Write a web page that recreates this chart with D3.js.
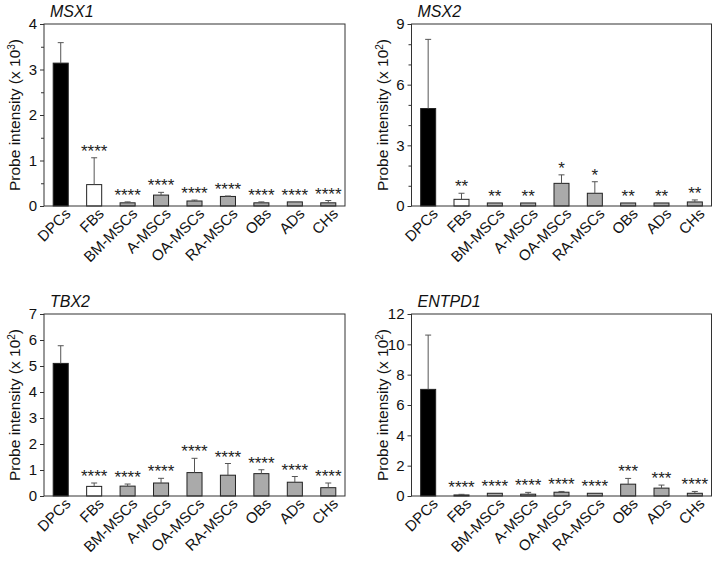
<!DOCTYPE html>
<html>
<head>
<meta charset="utf-8">
<script src="https://cdn.jsdelivr.net/npm/d3@7"></script>
<style>
  body { margin: 0; background: #fff; }
  svg { display: block; font-family: "Liberation Sans", Arial, Helvetica, sans-serif; }
</style>
</head>
<body>
<svg id="chart" width="718" height="561"></svg>
<script>
// ---- data ----
const categories = ["DPCs","FBs","BM-MSCs","A-MSCs","OA-MSCs","RA-MSCs","OBs","ADs","CHs"];

const msx1Mean = [3.14,0.47,0.07,0.24,0.11,0.21,0.07,0.09,0.07];
const msx1Err  = [0.45,0.59,0.02,0.06,0.02,0.01,0.02,0.00,0.05];
const msx1Sig  = ["","****","****","****","****","****","****","****","****"];

const msx2Mean = [4.82,0.33,0.15,0.15,1.12,0.63,0.15,0.15,0.20];
const msx2Err  = [3.42,0.30,0.00,0.00,0.42,0.57,0.00,0.00,0.10];
const msx2Sig  = ["","**","**","**","*","*","**","**","**"];

const tbx2Mean = [5.10,0.37,0.38,0.50,0.90,0.80,0.86,0.53,0.32];
const tbx2Err  = [0.68,0.13,0.08,0.18,0.55,0.45,0.15,0.22,0.18];
const tbx2Sig  = ["","****","****","****","****","****","****","****","****"];

const entpd1Mean = [7.03,0.07,0.18,0.12,0.25,0.18,0.78,0.52,0.18];
const entpd1Err  = [3.58,0.04,0.00,0.12,0.05,0.00,0.38,0.20,0.12];
const entpd1Sig  = ["","****","****","****","****","****","***","***","****"];

const msx1Ticks = [0,1,2,3,4];
const msx2Ticks = [0,3,6,9];
const tbx2Ticks = [0,1,2,3,4,5,6,7];
const entpd1Ticks = [0,2,4,6,8,10,12];

const panels = [
  {title:"MSX1", mean:msx1Mean, err:msx1Err, sig:msx1Sig, ticks:msx1Ticks, minor:0.5, exp:"3", x:44, y:24, w:301},
  {title:"MSX2", mean:msx2Mean, err:msx2Err, sig:msx2Sig, ticks:msx2Ticks, minor:1, exp:"2", x:411.5, y:24, w:300},
  {title:"TBX2", mean:tbx2Mean, err:tbx2Err, sig:tbx2Sig, ticks:tbx2Ticks, minor:0, exp:"2", x:44, y:314, w:301},
  {title:"ENTPD1", mean:entpd1Mean, err:entpd1Err, sig:entpd1Sig, ticks:entpd1Ticks, minor:0, exp:"2", x:411.5, y:314, w:300}
];

const H = 182;
const fills = (i) => i === 0 ? "#000" : (i === 1 ? "#fff" : "#aaa");
const svg = d3.select("#chart");

panels.forEach(p => {
  const g = svg.append("g").attr("transform", `translate(${p.x},${p.y})`);
  const xs = d3.scaleBand().domain(categories).range([0, p.w]).paddingInner(0.55).paddingOuter(0.275);
  const ymax = p.ticks[p.ticks.length - 1];
  const ys = d3.scaleLinear().domain([0, ymax]).range([H, 0]);

  // minor ticks
  if (p.minor) {
    const minors = d3.range(0, ymax + 1e-9, p.minor).filter(v => !p.ticks.some(t => Math.abs(t - v) < 1e-9));
    g.selectAll("line.minor").data(minors).enter().append("line").attr("class", "minor")
      .attr("x1", -3).attr("x2", 0)
      .attr("y1", d => ys(d) + 0.5).attr("y2", d => ys(d) + 0.5)
      .attr("stroke", "#333").attr("stroke-width", 1);
  }

  // y axis
  const ya = d3.axisLeft(ys).tickValues(p.ticks).tickSize(4).tickPadding(3).tickFormat(d3.format("d"));
  const yg = g.append("g").call(ya);
  yg.select(".domain").remove();
  yg.selectAll(".tick line").attr("stroke", "#333");
  yg.selectAll(".tick text").attr("font-size", 15).attr("fill", "#111")
    .attr("font-family", "Liberation Sans, Arial, sans-serif");

  // bars
  g.selectAll("rect.bar").data(p.mean).enter().append("rect").attr("class", "bar")
    .attr("x", (d, i) => xs(categories[i]))
    .attr("width", xs.bandwidth())
    .attr("y", d => ys(d))
    .attr("height", d => H - ys(d))
    .attr("fill", (d, i) => fills(i))
    .attr("stroke", "#222").attr("stroke-width", 1);

  // error bars
  const cx = (i) => xs(categories[i]) + xs.bandwidth() / 2;
  p.mean.forEach((m, i) => {
    const e = p.err[i];
    if (e > 0) {
      g.append("line").attr("x1", cx(i)).attr("x2", cx(i))
        .attr("y1", ys(m)).attr("y2", ys(m + e))
        .attr("stroke", "#555").attr("stroke-width", 1);
      g.append("line").attr("x1", cx(i) - 3).attr("x2", cx(i) + 3)
        .attr("y1", ys(m + e)).attr("y2", ys(m + e))
        .attr("stroke", "#555").attr("stroke-width", 1);
    }
  });

  // significance stars
  g.selectAll("text.sig").data(p.sig).enter().append("text").attr("class", "sig")
    .attr("x", (d, i) => cx(i))
    .attr("y", (d, i) => ys(p.mean[i] + p.err[i]) - 1)
    .attr("text-anchor", "middle")
    .attr("font-size", 17)
    .attr("fill", "#222")
    .text(d => d);

  // frame
  g.append("rect").attr("x", 0).attr("y", 0).attr("width", p.w).attr("height", H)
    .attr("fill", "none").attr("stroke", "#333").attr("stroke-width", 1);

  // x labels rotated -45
  g.selectAll("text.xl").data(categories).enter().append("text").attr("class", "xl")
    .attr("transform", d => `translate(${xs(d) + xs.bandwidth() / 2 + 7},${H + 5}) rotate(-45)`)
    .attr("text-anchor", "end")
    .attr("dy", "0.35em")
    .attr("font-size", 15)
    .attr("fill", "#111")
    .text(d => d);

  // title
  g.append("text").attr("x", 6).attr("y", -7)
    .attr("font-size", 16).attr("font-style", "italic").attr("fill", "#111")
    .text(p.title);

  // y label
  const yl = g.append("text")
    .attr("transform", `translate(-24,${H / 2}) rotate(-90)`)
    .attr("text-anchor", "middle")
    .attr("font-size", 15.5).attr("fill", "#111");
  yl.append("tspan").text("Probe intensity (x 10");
  yl.append("tspan").attr("baseline-shift", "super").attr("font-size", 10).text(p.exp);
  yl.append("tspan").text(")");
});
</script>
</body>
</html>
